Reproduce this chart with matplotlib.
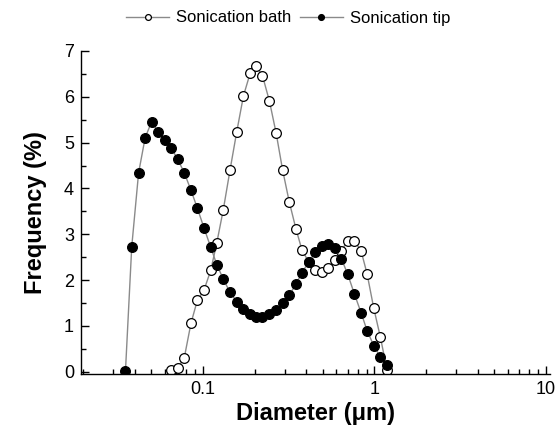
import numpy as np
import matplotlib
matplotlib.use('Agg')
import matplotlib.pyplot as plt
from matplotlib.ticker import LogLocator, FixedLocator, NullFormatter

plt.rcParams['font.family'] = ['Liberation Sans', 'DejaVu Sans']

# diameters (um)
diam_bath = [0.0650, 0.0711, 0.0778, 0.0851, 0.0927, 0.1013, 0.1109, 0.1203,
             0.1314, 0.1439, 0.1574, 0.1722, 0.1883, 0.2042, 0.2223, 0.2443,
             0.2673, 0.2911, 0.3184, 0.3484, 0.3776, 0.4130, 0.4518, 0.4943,
             0.5358, 0.5860, 0.6412, 0.6982, 0.7638, 0.8356, 0.9057, 0.9908,
             1.084, 1.186]
freq_bath = [0.03, 0.08, 0.31, 1.06, 1.56, 1.78, 2.21, 2.81,
             3.54, 4.41, 5.24, 6.02, 6.51, 6.67, 6.46, 5.90,
             5.20, 4.41, 3.71, 3.12, 2.66, 2.40, 2.23, 2.18,
             2.27, 2.44, 2.64, 2.86, 2.86, 2.64, 2.14, 1.39,
             0.75, 0.03]

diam_tip = [0.0353, 0.0384, 0.0421, 0.0460, 0.0501, 0.0548, 0.0600, 0.0650,
            0.0711, 0.0778, 0.0851, 0.0927, 0.1013, 0.1109, 0.1203, 0.1314,
            0.1439, 0.1574, 0.1722, 0.1883, 0.2042, 0.2223, 0.2443, 0.2673,
            0.2911, 0.3184, 0.3484, 0.3776, 0.4130, 0.4518, 0.4943, 0.5358,
            0.5860, 0.6412, 0.6982, 0.7638, 0.8356, 0.9057, 0.9908, 1.084,
            1.186]
freq_tip = [0.02, 2.73, 4.34, 5.11, 5.45, 5.24, 5.05, 4.89,
            4.64, 4.34, 3.96, 3.57, 3.14, 2.72, 2.34, 2.02,
            1.73, 1.53, 1.36, 1.25, 1.19, 1.19, 1.26, 1.35,
            1.49, 1.67, 1.91, 2.16, 2.39, 2.61, 2.74, 2.78,
            2.70, 2.47, 2.13, 1.70, 1.29, 0.90, 0.57, 0.32,
            0.15]

fig = plt.figure(figsize=(5.58, 4.28), dpi=100)
ax = fig.add_axes([0.145, 0.126, 0.841, 0.755])

line_kw = dict(color='#8a8a8a', lw=1.0, marker='o', markersize=7.0,
               markeredgecolor='black', markeredgewidth=0.9)
ax.plot(diam_bath, freq_bath, markerfacecolor='white',
        label='Sonication bath', **line_kw)
ax.plot(diam_tip, freq_tip, markerfacecolor='black',
        label='Sonication tip', **line_kw)

ax.set_xscale('log')
ax.set_xlim(0.0194, 10.6)
ax.set_ylim(-0.05, 7.0)

ax.xaxis.set_major_locator(FixedLocator([0.1, 1, 10]))
ax.set_xticklabels(['0.1', '1', '10'])
ax.xaxis.set_minor_locator(LogLocator(base=10, subs=np.arange(2, 10)))
ax.xaxis.set_minor_formatter(NullFormatter())
ax.set_yticks(range(0, 8))
ax.set_yticks(np.arange(0.5, 7, 1.0), minor=True)

ax.tick_params(which='both', direction='in', labelsize=13, width=1.0)
ax.tick_params(which='major', length=6, pad=5)
ax.tick_params(which='minor', length=3.5)

for side in ['top', 'right']:
    ax.spines[side].set_visible(False)
for side in ['left', 'bottom']:
    ax.spines[side].set_linewidth(1.0)

ax.set_xlabel('Diameter (\u03bcm)', fontsize=17, fontweight='bold', labelpad=3)
ax.set_ylabel('Frequency (%)', fontsize=17, fontweight='bold', labelpad=12)

fig.legend(loc='center', bbox_to_anchor=(288 / 558, 1 - 18 / 428),
           ncol=2, frameon=False, fontsize=12, handlelength=2.6,
           handletextpad=0.4, columnspacing=0.5, markerscale=0.6)

fig.savefig('out.png', dpi=100)
